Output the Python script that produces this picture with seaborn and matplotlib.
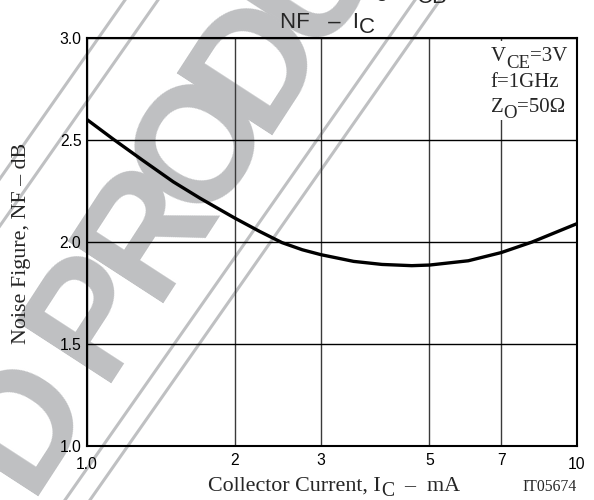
import numpy as np
import pandas as pd
import matplotlib
matplotlib.use("Agg")
import matplotlib.pyplot as plt
from matplotlib.lines import Line2D
from matplotlib.patches import Rectangle
from matplotlib.ticker import NullLocator
import seaborn as sns

# ---- data ----
ic_ma = [1.0, 1.13, 1.3, 1.5, 1.7, 2.0, 2.25, 2.5, 2.75, 3.0, 3.5, 4.0, 4.6, 5.0, 6.0, 7.0, 8.1, 10.0]
nf_db = [2.600, 2.505, 2.400, 2.295, 2.215, 2.118, 2.052, 1.997, 1.962, 1.938, 1.905, 1.890,
         1.884, 1.887, 1.908, 1.948, 2.000, 2.090]
x_ticks = [1, 2, 3, 5, 7, 10]
x_tick_labels = ["1.0", "2", "3", "5", "7", "10"]
y_ticks = [1.0, 1.5, 2.0, 2.5, 3.0]
y_tick_labels = ["1.0", "1.5", "2.0", "2.5", "3.0"]

sns.set_theme(style="white")
plt.rcParams["font.family"] = ["Liberation Sans", "DejaVu Sans"]
SERIF = ["Liberation Serif", "DejaVu Serif"]
SANS = ["Liberation Sans", "DejaVu Sans"]

W, H = 594, 500
fig = plt.figure(figsize=(5.94, 5.0), dpi=100)
fig.patch.set_facecolor("white")


def fx(px):
    return px / W


def fy(py):
    return 1 - py / H


ax = fig.add_axes([fx(87), fy(446), fx(577) - fx(87), fy(38) - fy(446)])
ax.set_facecolor("none")

df = pd.DataFrame({"ic": ic_ma, "nf": nf_db})
sns.lineplot(data=df, x="ic", y="nf", ax=ax, color="black", lw=2.4, zorder=5)

ax.set_xscale("log")
ax.set_xlim(1, 10)
ax.set_ylim(1, 3)
ax.set_xticks(x_ticks)
ax.set_xticklabels(x_tick_labels)
ax.xaxis.set_minor_locator(NullLocator())
ax.set_yticks(y_ticks)
ax.set_yticklabels(y_tick_labels)
ax.set_xlabel("")
ax.set_ylabel("")
ax.tick_params(axis="both", length=0, labelsize=11.3, colors="black")
ax.tick_params(axis="x", pad=5)
ax.tick_params(axis="y", pad=4)
ax.set_axisbelow(True)
ax.xaxis.grid(True, color="#3a3a3a", lw=1.0)
ax.yaxis.grid(True, color="black", lw=1.0)
for sp in ax.spines.values():
    sp.set_visible(True)
    sp.set_color("black")
    sp.set_linewidth(1.5)

# end labels sit a little lower in the reference
for tick in ax.xaxis.get_major_ticks():
    if tick.label1.get_text() in ("1.0", "10"):
        tick.label1.set_y(-4.0 / 408)

# white box behind the condition text
ax.add_patch(Rectangle((0.818, 0.80), 0.176, 0.193, transform=ax.transAxes,
                       facecolor="white", edgecolor="none", zorder=1.5))

# ---- condition text (left aligned) ----
ann = 15.0
t = fig.text(fx(490.7), fy(61), "V", fontsize=ann, family=SERIF, va="baseline", ha="left", zorder=6)
t2 = ax.annotate("CE", xy=(1, 0), xycoords=t, xytext=(0, -5.5), textcoords="offset pixels",
                 fontsize=ann * 0.9, family=SERIF, va="bottom", ha="left", zorder=6)
ax.annotate("=3V", xy=(1, 0), xycoords=t2, xytext=(0, 5.5), textcoords="offset pixels",
            fontsize=ann, family=SERIF, va="bottom", ha="left", zorder=6)
fig.text(fx(490.7), fy(87), "f=1GHz", fontsize=ann, family=SERIF, va="baseline", ha="left", zorder=6)
t = fig.text(fx(490.7), fy(112), "Z", fontsize=ann, family=SERIF, va="baseline", ha="left", zorder=6)
t2 = ax.annotate("O", xy=(1, 0), xycoords=t, xytext=(0, -5.5), textcoords="offset pixels",
                 fontsize=ann * 0.9, family=SERIF, va="bottom", ha="left", zorder=6)
ax.annotate("=50\u03a9", xy=(1, 0), xycoords=t2, xytext=(0, 5.5), textcoords="offset pixels",
            fontsize=ann, family=SERIF, va="bottom", ha="left", zorder=6)

# ---- title ----
tt = fig.text(fx(280), fy(28), "NF   \u2013  I", fontsize=16, family=SANS, va="baseline", ha="left")
ax.annotate("C", xy=(1, 0), xycoords=tt, xytext=(0, -5), textcoords="offset pixels",
            fontsize=16, family=SANS, va="bottom", ha="left")

# partial heading of the previous chart, cut at the top edge
tp = fig.text(fx(416), fy(-4), "g, V", fontsize=16, family=SANS, va="baseline", ha="right")
ax.annotate("CB", xy=(1, 0), xycoords=tp, xytext=(1, -7), textcoords="offset pixels",
            fontsize=16, family=SANS, va="bottom", ha="left")

# ---- axis labels ----
xl = fig.text(fx(208), fy(491), "Collector Current, I", fontsize=15.8, family=SERIF,
              va="baseline", ha="left")
xl2 = ax.annotate("C", xy=(1, 0), xycoords=xl, xytext=(0, -5), textcoords="offset pixels",
                  fontsize=15.8 * 0.9, family=SERIF, va="bottom", ha="left")
ax.annotate("  \u2013  mA", xy=(1, 0), xycoords=xl2, xytext=(0, 5), textcoords="offset pixels",
            fontsize=15.8, family=SERIF, va="bottom", ha="left")
fig.text(fx(22), fy(243), "Noise Figure, NF \u2013 dB", fontsize=15.8, family=SERIF,
         rotation=90, va="center", ha="center")
fig.text(fx(577), fy(491), "IT05674", fontsize=11.3, family=SERIF, va="baseline", ha="right")

# ---- watermark (behind everything) ----
WM = "#bfc0c2"
ang = 57.0
Fpx = 165.0
fs_wm = Fpx * 72 / 100
u = np.array([np.cos(np.radians(ang)), -np.sin(np.radians(ang))])
v = np.array([-np.sin(np.radians(ang)), -np.cos(np.radians(ang))])
o_center = np.array([190.0, 137.0])
pitch = 100.0
wm_letters = [("D", -3.3), ("P", -2.0), ("R", -1.0), ("O", 0.0), ("D", 1.0), ("U", 2.0), ("C", 3.0)]
for ch, k in wm_letters:
    c = o_center + k * pitch * u
    b = c - 0.36 * Fpx * v
    fig.text(fx(b[0]), fy(b[1]), ch, rotation=ang, rotation_mode="anchor",
             ha="center", va="baseline", fontsize=fs_wm, fontweight="bold", family=SANS,
             color=WM, zorder=-5)

slope = -0.70
for top_x in (125, 158, 415, 440):
    ys = np.array([-10.0, 510.0])
    xs = top_x + slope * ys
    fig.add_artist(Line2D(xs / W, 1 - ys / H, transform=fig.transFigure,
                          color=WM, lw=2.2, zorder=-6))

fig.savefig("out.png", dpi=100, facecolor="white")
